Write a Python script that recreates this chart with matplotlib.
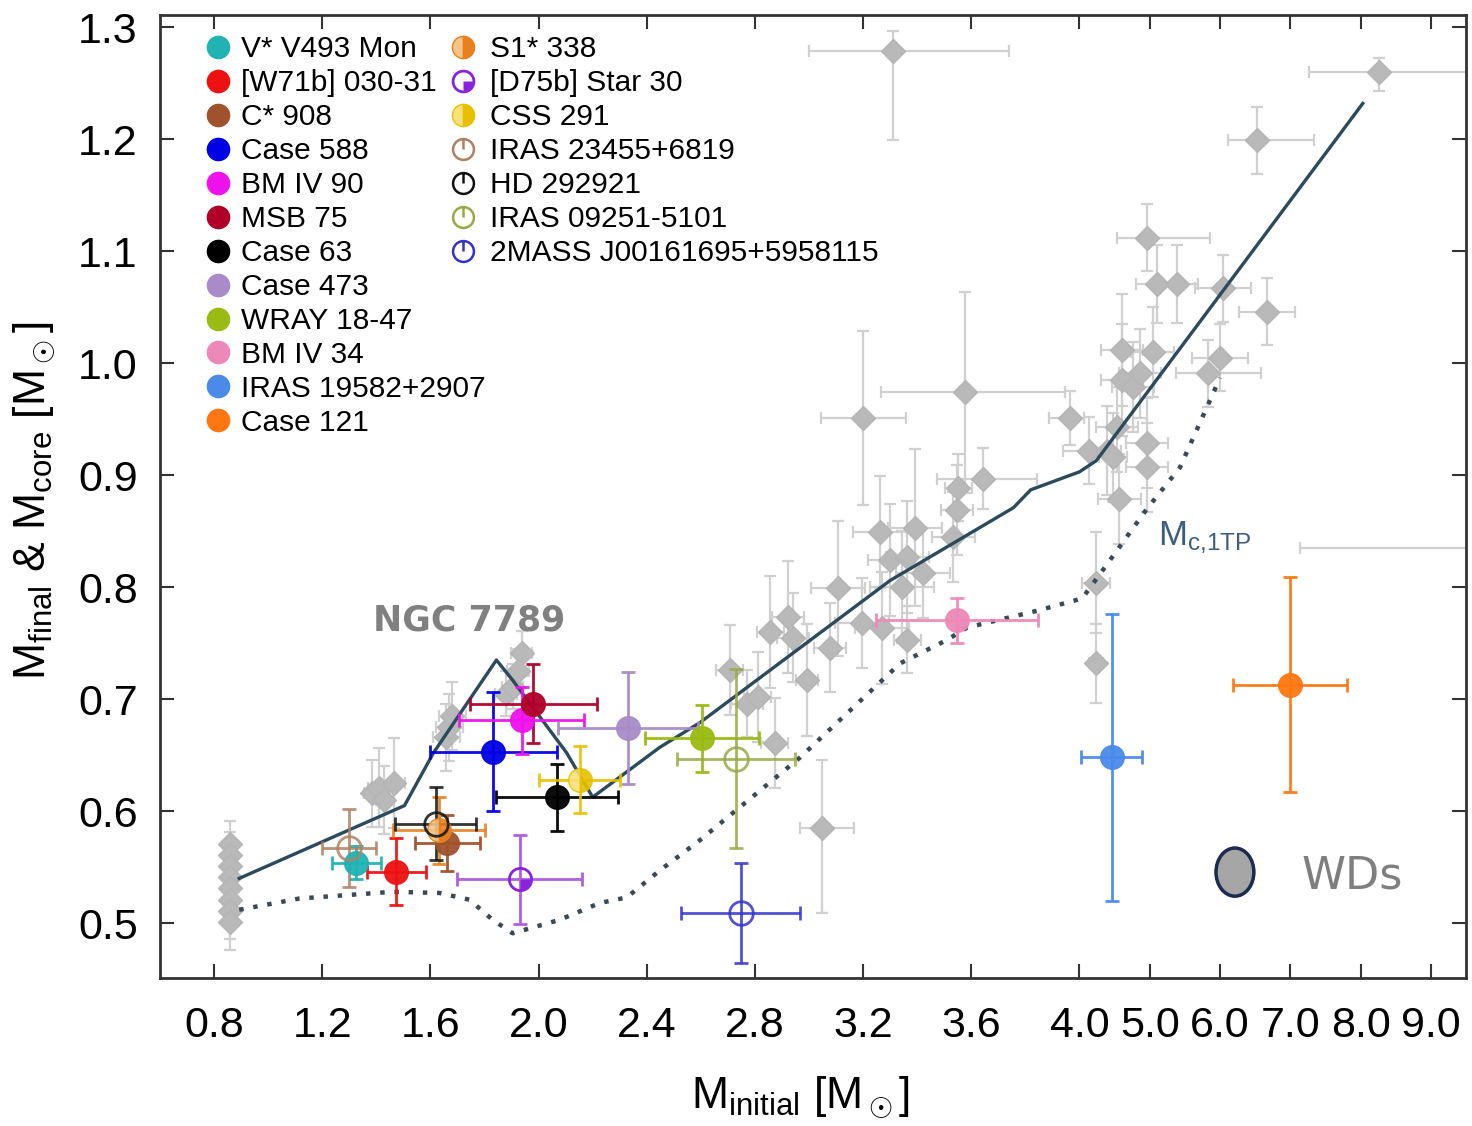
import numpy as np
import matplotlib
matplotlib.use('Agg')
import matplotlib.pyplot as plt
from matplotlib.lines import Line2D
from matplotlib.path import Path
from matplotlib.patches import Ellipse
from matplotlib.legend_handler import HandlerTuple

plt.rcParams['font.family'] = ['Liberation Sans', 'DejaVu Sans']
plt.rcParams['mathtext.fontset'] = 'custom'
plt.rcParams['mathtext.rm'] = 'Liberation Sans'
plt.rcParams['mathtext.it'] = 'Liberation Sans:italic'
plt.rcParams['mathtext.bf'] = 'Liberation Sans:bold'

# white dwarfs (grey diamonds): x, y, xerr, yerr
wd_x = [0.86, 0.86, 0.86, 0.86, 0.86, 0.86, 0.86, 0.86,
        1.385, 1.411, 1.467, 1.43, 1.659, 1.67, 1.68,
        1.88, 1.904, 1.937, 1.925,
        2.707, 2.77, 2.81, 2.874, 2.856, 2.922, 2.94, 2.993, 3.078, 3.107,
        3.196, 3.27, 3.363, 3.263, 3.393, 3.3, 3.363, 3.344, 3.422, 3.533,
        3.548, 3.552, 3.644, 3.2, 3.578, 3.967, 3.048, 3.31,
        4.24, 4.24, 4.14, 4.39, 4.48, 4.57, 4.53, 4.61, 4.61, 4.76, 4.86,
        5.04, 4.96, 4.96, 4.96, 5.1, 5.39, 6.04, 6.67, 6.0, 5.83, 6.53,
        8.26, 10.5]
wd_y = [0.571, 0.561, 0.551, 0.541, 0.531, 0.521, 0.511, 0.501,
        0.616, 0.621, 0.625, 0.61, 0.666, 0.675, 0.685,
        0.705, 0.711, 0.741, 0.725,
        0.726, 0.696, 0.702, 0.661, 0.76, 0.773, 0.755, 0.717, 0.746, 0.799,
        0.768, 0.764, 0.753, 0.849, 0.853, 0.824, 0.827, 0.80, 0.8125, 0.845,
        0.869, 0.889, 0.897, 0.951, 0.974, 0.951, 0.585, 1.279,
        0.732, 0.804, 0.922, 0.922, 0.916, 0.879, 0.943, 1.012, 0.985, 0.979, 0.991,
        1.01, 0.929, 0.907, 1.112, 1.071, 1.071, 1.067, 1.046, 1.005, 0.991, 1.199,
        1.26, 0.835]
wd_xerr_lo = [0.01] * 8 + [0.03, 0.04, 0.04, 0.03, 0.05, 0.05, 0.05,
              0.04, 0.04, 0.04, 0.04,
              0.05, 0.06, 0.05, 0.05, 0.05, 0.06, 0.06, 0.04, 0.06, 0.1,
              0.1, 0.1, 0.05, 0.1, 0.1, 0.08, 0.08, 0.12, 0.1, 0.08,
              0.06, 0.05, 0.17, 0.157, 0.31, 0.08, 0.08, 0.31,
              0.1, 0.2, 0.2, 0.2, 0.2, 0.3, 0.3, 0.3, 0.3, 0.3, 0.3,
              0.3, 0.3, 0.3, 0.43, 0.3, 0.3, 0.4, 0.4, 0.4, 0.45, 0.42,
              1.0, 3.36]
wd_xerr_hi = [0.01] * 8 + [0.03, 0.04, 0.04, 0.03, 0.05, 0.05, 0.05,
              0.04, 0.04, 0.04, 0.04,
              0.05, 0.06, 0.05, 0.05, 0.05, 0.06, 0.06, 0.04, 0.06, 0.1,
              0.1, 0.1, 0.05, 0.1, 0.1, 0.08, 0.08, 0.12, 0.1, 0.08,
              0.06, 0.05, 0.2, 0.157, 0.37, 0.1, 0.12, 0.43,
              0.1, 0.2, 0.2, 0.2, 0.2, 0.3, 0.3, 0.3, 0.3, 0.3, 0.3,
              0.3, 0.3, 0.3, 0.9, 0.3, 0.3, 0.4, 0.4, 0.4, 0.75, 0.8,
              1.5, 0.5]
wd_yerr_lo = [0.02] * 6 + [0.025, 0.025] + [0.03, 0.035, 0.04, 0.03, 0.03, 0.03, 0.03,
              0.02, 0.02, 0.02, 0.02,
              0.04, 0.03, 0.04, 0.04, 0.05, 0.05, 0.04, 0.05, 0.04, 0.06,
              0.04, 0.05, 0.03, 0.05, 0.07, 0.05, 0.05, 0.05, 0.04, 0.04,
              0.04, 0.03, 0.027, 0.078, 0.09, 0.024, 0.076, 0.08,
              0.035, 0.045, 0.03, 0.04, 0.04, 0.04, 0.04, 0.05, 0.05, 0.04, 0.04,
              0.04, 0.04, 0.04, 0.03, 0.035, 0.035, 0.03, 0.03, 0.03, 0.03, 0.03,
              0.017, 0.02]
wd_yerr_hi = [0.02] * 6 + [0.025, 0.025] + [0.03, 0.035, 0.04, 0.03, 0.03, 0.03, 0.03,
              0.02, 0.02, 0.02, 0.02,
              0.04, 0.03, 0.04, 0.04, 0.05, 0.05, 0.04, 0.05, 0.04, 0.06,
              0.04, 0.05, 0.03, 0.05, 0.07, 0.05, 0.05, 0.05, 0.04, 0.04,
              0.04, 0.03, 0.027, 0.078, 0.09, 0.024, 0.061, 0.018,
              0.035, 0.045, 0.03, 0.04, 0.04, 0.04, 0.04, 0.05, 0.05, 0.04, 0.04,
              0.04, 0.04, 0.04, 0.03, 0.035, 0.035, 0.03, 0.03, 0.03, 0.03, 0.03,
              0.013, 0.02]

# initial-final mass relation (solid) and core mass at first thermal pulse (dotted)
ifmr_x = [0.893, 1.504, 1.611, 1.844, 1.904, 2.104, 2.2, 2.448, 2.596, 3.30,
          3.756, 3.82, 4.0, 4.24, 8.03]
ifmr_y = [0.540, 0.605, 0.652, 0.735, 0.717, 0.652, 0.6125, 0.657, 0.679, 0.806,
          0.871, 0.887, 0.903, 0.913, 1.232]
mc1tp_x = [0.893, 1.115, 1.459, 1.633, 1.744, 1.83, 1.904, 2.078, 2.226, 2.326,
           2.448, 2.596, 2.967, 3.337, 3.511, 3.585, 3.844, 4.04, 4.33, 4.96,
           5.43, 6.0]
mc1tp_y = [0.512, 0.522, 0.528, 0.527, 0.521, 0.503, 0.491, 0.503, 0.518, 0.523,
           0.547, 0.574, 0.648, 0.732, 0.753, 0.764, 0.779, 0.790, 0.815, 0.870,
           0.907, 0.987]

# filled-circle stars
star_names = ['V* V493 Mon', '[W71b] 030-31', 'C* 908', 'Case 588', 'BM IV 90',
              'MSB 75', 'Case 63', 'Case 473', 'WRAY 18-47', 'BM IV 34',
              'IRAS 19582+2907', 'Case 121']
star_colors = ['#1fb3b3', '#ee1111', '#a0522d', '#0000e6', '#ee11ee',
               '#b0002a', '#000000', '#a88bc8', '#9abb11', '#ee88b8',
               '#4a8ae8', '#ff7711']
star_x = [1.326, 1.474, 1.663, 1.833, 1.937, 1.981, 2.067, 2.33, 2.604, 3.548, 4.457, 7.0]
star_y = [0.554, 0.546, 0.572, 0.653, 0.681, 0.696, 0.6125, 0.674, 0.665, 0.7705, 0.648, 0.713]
star_xerr = [0.09, 0.11, 0.12, 0.235, 0.23, 0.235, 0.226, 0.26, 0.21, 0.3, 0.43, 0.81]
star_yerr = [0.015, 0.03, 0.025, 0.053, 0.03, 0.035, 0.03, 0.05, 0.03, 0.02, 0.128, 0.096]

# half-filled stars
half_names = ['S1* 338', 'CSS 291']
half_colors = ['#e8801e', '#e8c000']
half_alt = ['#f7c488', '#f7e27a']
half_x = [1.633, 2.152]
half_y = [0.583, 0.628]
half_xerr = [0.17, 0.15]
half_yerr = [0.03, 0.03]

# quarter-filled star
d75_x, d75_y, d75_xerr, d75_yerr = 1.93, 0.539, 0.23, 0.04

# open-circle stars
open_names = ['IRAS 23455+6819', 'HD 292921', 'IRAS 09251-5101', '2MASS J00161695+5958115']
open_colors = ['#b08060', '#111111', '#98aa44', '#3333cc']
open_x = [1.3, 1.619, 2.73, 2.748]
open_y = [0.567, 0.589, 0.647, 0.509]
open_xerr = [0.1, 0.15, 0.217, 0.22]
open_yerr = [0.035, 0.033, 0.08, 0.045]

xticks = [0.8, 1.2, 1.6, 2.0, 2.4, 2.8, 3.2, 3.6, 4.0, 5.0, 6.0, 7.0, 8.0, 9.0]
yticks = [0.5, 0.6, 0.7, 0.8, 0.9, 1.0, 1.1, 1.2, 1.3]


def fwd(x):
    x = np.asarray(x, dtype=float)
    return np.where(x <= 4, x, 4 + (x - 4) * 0.26)


def inv(u):
    u = np.asarray(u, dtype=float)
    return np.where(u <= 4, u, 4 + (u - 4) / 0.26)


fig = plt.figure(figsize=(14.72, 11.26), dpi=100)
ax = fig.add_axes([0.1087, 0.1314, 0.8873, 0.8553])
ax.set_xscale('function', functions=(fwd, inv))

ax.errorbar(wd_x, wd_y, xerr=[wd_xerr_lo, wd_xerr_hi], yerr=[wd_yerr_lo, wd_yerr_hi],
            fmt='D', ms=12, color='#b9b9b9', mec='#b4b4b4', ecolor='#d0d0d0',
            elinewidth=1.6, capsize=4, capthick=1.6, zorder=2)

ax.plot(ifmr_x, ifmr_y, color='#2b4a5c', lw=2.4, zorder=3)
ax.plot(mc1tp_x, mc1tp_y, color='#3a4a55', lw=3.2, ls=(0, (1, 2.2)), zorder=3)

handles1 = []
for n, c, x, y, xe, ye in zip(star_names, star_colors, star_x, star_y, star_xerr, star_yerr):
    ax.errorbar(x, y, xerr=xe, yerr=ye, fmt='o', ms=17, color=c, ecolor=c,
                elinewidth=2, capsize=5, capthick=2, alpha=0.95, zorder=4)
    handles1.append(Line2D([], [], ls='none', marker='o', ms=16, color=c))

power = Path.make_compound_path(Path.unit_circle(),
                                Path([[0, 1.0], [0, 0.0]], [Path.MOVETO, Path.LINETO]))
wedge = Path.wedge(270, 360)

handles2, labels2 = [], []
for n, c, a, x, y, xe, ye in zip(half_names, half_colors, half_alt, half_x, half_y,
                                   half_xerr, half_yerr):
    ax.errorbar(x, y, xerr=xe, yerr=ye, fmt='o', ms=17, color=c, mfc=a, mfcalt=c,
                mec=c, fillstyle='left', ecolor=c, elinewidth=2, capsize=5,
                capthick=2, alpha=0.9, zorder=4)
    handles2.append(Line2D([], [], ls='none', marker='o', ms=16, mfc=a, mfcalt=c,
                           mec=c, fillstyle='left'))
    labels2.append(n)

# [D75b] Star 30 goes second in the legend
ax.errorbar(d75_x, d75_y, xerr=d75_xerr, yerr=d75_yerr, fmt='o', ms=16, mfc='none',
            mec='#8822dd', mew=2, ecolor='#b060e0', elinewidth=2, capsize=5,
            capthick=2, zorder=4)
ax.plot(d75_x, d75_y, ls='none', marker=wedge, ms=15, color='#8822dd', mew=0, zorder=5)
d75_handle = (Line2D([], [], ls='none', marker='o', ms=15, mfc='none', mec='#8822dd', mew=2),
              Line2D([], [], ls='none', marker=wedge, ms=14, color='#8822dd', mew=0))
handles2.insert(1, d75_handle)
labels2.insert(1, '[D75b] Star 30')

for n, c, x, y, xe, ye in zip(open_names, open_colors, open_x, open_y, open_xerr, open_yerr):
    ax.errorbar(x, y, xerr=xe, yerr=ye, fmt='o', ms=17, mfc='none', mec=c, mew=2,
                ecolor=c, elinewidth=2, capsize=5, capthick=2, alpha=0.85, zorder=4)
    handles2.append(Line2D([], [], ls='none', marker=power, ms=15, mfc='none',
                           mec=c, mew=1.8))
    labels2.append(n)

leg1 = ax.legend(handles1, star_names, loc='upper left', bbox_to_anchor=(0.0355, 0.979),
                 frameon=False, fontsize=21.5, handlelength=0.8, handletextpad=0.35,
                 labelspacing=0.2, borderpad=0, borderaxespad=0)
ax.add_artist(leg1)
ax.legend(handles2, labels2, loc='upper left', bbox_to_anchor=(0.2231, 0.979),
          frameon=False, fontsize=21.5, handlelength=0.8, handletextpad=0.5,
          labelspacing=0.2, borderpad=0, borderaxespad=0,
          handler_map={tuple: HandlerTuple(ndivide=1)})

ax.text(1.744, 0.7705, 'NGC 7789', fontsize=25, fontweight='bold', color='#808080',
        ha='center', va='center', family='DejaVu Sans')
ax.text(5.12, 0.8375, r'M$_{\mathregular{c{,}1TP}}$', fontsize=25, color='#3d5f7f',
        ha='left', va='baseline')

ax.add_patch(Ellipse((0.823, 0.110), 0.029, 0.05, transform=ax.transAxes,
                     facecolor='#a6a6a6', edgecolor='#1a2a50', lw=2.5, zorder=6))
ax.text(0.874, 0.106, 'WDs', transform=ax.transAxes, fontsize=32, color='#7f7f7f',
        ha='left', va='center', family='DejaVu Sans')

ax.set_xlim(0.6, 9.5)
ax.set_ylim(0.451, 1.311)
ax.set_xticks(xticks)
ax.set_xticklabels([f'{t:.1f}' for t in xticks])
ax.set_yticks(yticks)
ax.set_yticklabels([f'{t:.1f}' for t in yticks])
ax.tick_params(direction='in', top=True, right=True, length=10, width=1.5,
               labelsize=31, color='#333333')
ax.tick_params(axis='x', pad=20)
ax.tick_params(axis='y', pad=16)
for s in ax.spines.values():
    s.set_linewidth(2)
    s.set_color('#333333')

ax.set_xlabel(r'M$_{\mathregular{initial}}$ [M$_\odot$]', fontsize=32)
ax.set_ylabel(r'M$_{\mathregular{final}}$ & M$_{\mathregular{core}}$ [M$_\odot$]', fontsize=32)
ax.xaxis.set_label_coords(0.49, -0.10)
ax.yaxis.set_label_coords(-0.078, 0.496)

fig.savefig('out.png', dpi=100)
